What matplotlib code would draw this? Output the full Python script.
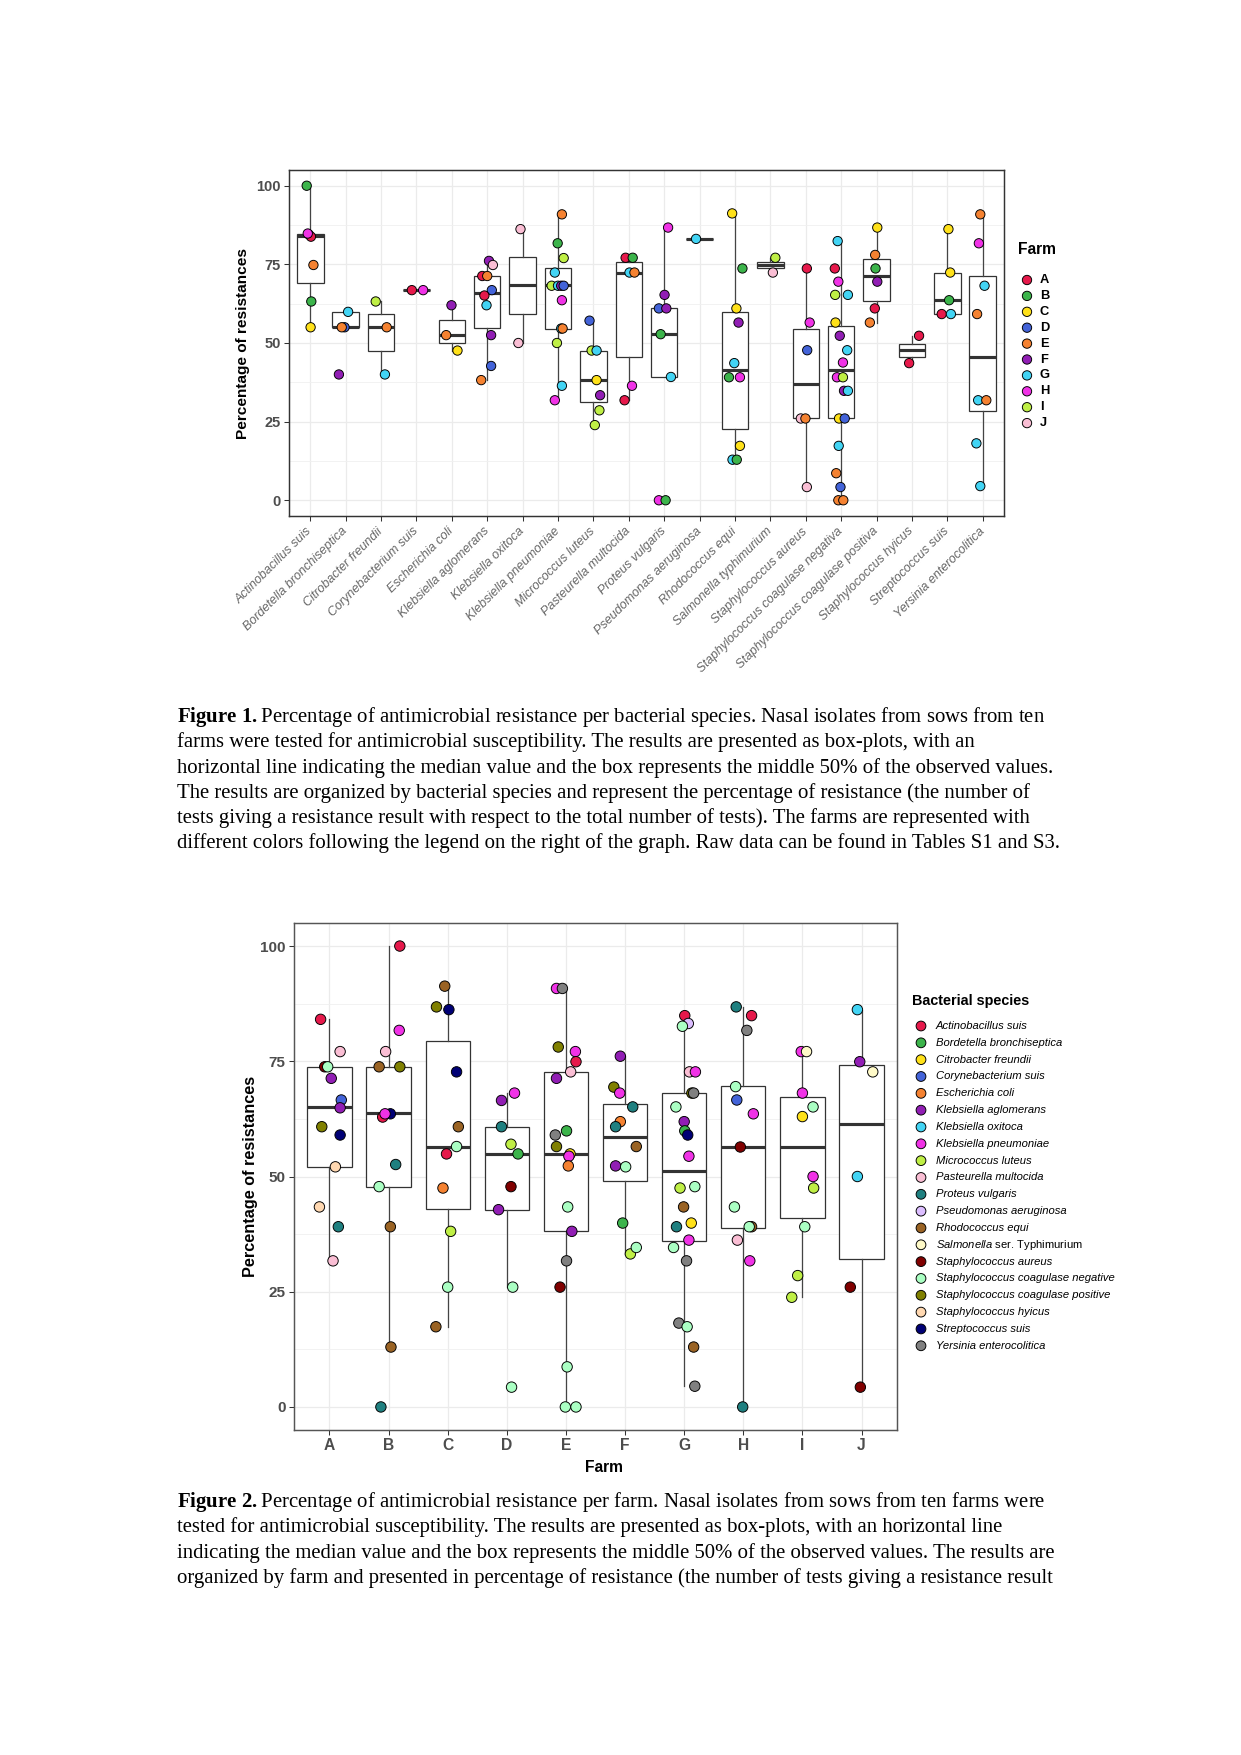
import numpy as np
import matplotlib
matplotlib.use('Agg')
import matplotlib.pyplot as plt

plt.rcParams['font.family'] = ['Liberation Sans', 'DejaVu Sans']
plt.rcParams['mathtext.fontset'] = 'custom'
plt.rcParams['mathtext.rm'] = 'Liberation Serif'
plt.rcParams['mathtext.bf'] = 'Liberation Serif:bold'
plt.rcParams['mathtext.it'] = 'Liberation Sans:italic'

W, H = 1241, 1755

farms = list('ABCDEFGHIJ')
farm_colors = ['#e6194b', '#3cb44b', '#ffe119', '#4363d8', '#f58231',
               '#911eb4', '#42d4f4', '#f032e6', '#bfef45', '#fabed4']

##########  figure 1 : resistance per bacterial species
species1 = ['Actinobacillus suis', 'Bordetella bronchiseptica', 'Citrobacter freundii',
            'Corynebacterium suis', 'Escherichia coli', 'Klebsiella aglomerans',
            'Klebsiella oxitoca', 'Klebsiella pneumoniae', 'Micrococcus luteus',
            'Pasteurella multocida', 'Proteus vulgaris', 'Pseudomonas aeruginosa',
            'Rhodococcus equi', 'Salmonella typhimurium', 'Staphylococcus aureus',
            'Staphylococcus coagulase negativa', 'Staphylococcus coagulase positiva',
            'Staphylococcus hyicus', 'Streptococcus suis', 'Yersinia enterocolitica']

# points: farm letters, values (%), horizontal jitter (category units)
f1_farm = ['BDAHEBC', 'GDEF', 'IEG', 'AH', 'FEC', 'FJAEDAGFDE', 'JJ', 'EBIGIGFDHGEIGH',
           'DIGCFII', 'ABGEHA', 'HFDFBGHB', 'G', 'CBCFGBHCGB', 'IJ', 'AHDJEJ',
           'GAHIGCFGHHIFGCDGEDEE', 'CEBFAE', 'AA', 'CCBAG', 'EHGEGEGG']
f1_val = [[100, 84.5, 83.8, 84.8, 74.8, 63.2, 55.0],
          [59.9, 55.0, 55.0, 40.0],
          [63.2, 55.0, 40.0],
          [66.8, 66.8],
          [62.0, 52.5, 47.6],
          [76.1, 74.8, 71.3, 71.3, 66.8, 65.1, 62.0, 52.5, 42.7, 38.2],
          [86.2, 50.0],
          [90.9, 81.7, 77.0, 72.4, 68.2, 68.2, 68.2, 68.2, 63.6, 54.6, 54.6, 50.0, 36.4, 31.8],
          [57.1, 47.6, 47.6, 38.2, 33.4, 28.6, 23.9],
          [77.1, 77.1, 72.4, 72.4, 36.4, 31.8],
          [86.7, 65.3, 61.0, 61.0, 52.8, 39.2, 0, 0],
          [83.1],
          [91.2, 73.7, 61.0, 56.5, 43.6, 39.1, 39.1, 17.3, 12.9, 12.9],
          [77.1, 72.4],
          [73.7, 56.5, 47.7, 26.0, 26.0, 4.2],
          [82.4, 73.7, 69.5, 65.3, 65.3, 56.5, 52.3, 47.7, 43.8, 39.1, 39.1, 34.8, 34.8,
           26.0, 26.0, 17.3, 8.6, 4.2, 0, 0],
          [86.7, 78.0, 73.7, 69.5, 61.0, 56.5],
          [52.3, 43.6],
          [86.2, 72.4, 63.6, 59.2, 59.2],
          [90.9, 81.7, 68.2, 59.2, 31.8, 31.8, 18.1, 4.5]]
f1_jit = [[-.10, -.04, .02, -.07, .09, .03, .01],
          [.07, -.03, -.11, -.19],
          [-.15, .16, .11],
          [-.13, .19],
          [-.01, -.16, .16],
          [.05, .16, -.14, 0, .13, -.08, -.02, .11, .11, -.17],
          [-.06, -.12],
          [.11, -.01, .16, -.09, -.18, 0, .09, .16, .11, .09, .13, -.03, .11, -.09],
          [-.11, -.05, .09, .09, .19, .17, .04],
          [-.09, .11, .02, .16, .09, -.12],
          [.11, .01, -.15, .06, -.10, .19, -.15, .04],
          [-.10],
          [-.08, .21, .04, .10, -.02, -.17, .14, .14, -.07, .05],
          [.14, .07],
          [.03, .11, .04, -.14, -.01, .03],
          [-.10, -.18, -.08, -.17, .19, -.16, -.04, .17, .05, -.12, .05, .08, .19,
           -.06, .10, -.07, -.14, -.02, -.08, .06],
          [.02, -.04, -.03, .02, -.05, -.19],
          [.20, -.08],
          [.03, .08, .05, -.16, .10],
          [-.07, -.11, .05, -.16, -.13, .10, -.18, -.07]]

# box statistics
f1_q1 = [69.2, 55.0, 47.6, 66.7, 50.0, 54.9, 59.1, 54.6, 31.1, 45.4,
         39.2, 83.1, 22.8, 73.7, 26.0, 26.0, 63.2, 45.7, 59.2, 28.4]
f1_med = [84.1, 55.0, 55.1, 66.7, 52.6, 66.0, 68.3, 68.3, 38.2, 72.3,
          52.8, 83.1, 41.5, 74.9, 37.0, 41.4, 71.4, 47.7, 63.6, 45.4]
f1_q3 = [84.8, 59.9, 59.1, 66.7, 57.2, 71.2, 77.2, 73.7, 47.6, 75.9,
         61.0, 83.1, 59.9, 75.9, 54.5, 55.5, 76.8, 49.8, 72.3, 71.4]
f1_lo = [55.0, 55.0, 40.0, 66.7, 47.6, 38.2, 50.0, 31.8, 23.9, 31.8,
         39.2, 83.1, 12.9, 72.4, 4.2, 0, 56.5, 43.6, 59.2, 4.5]
f1_hi = [100, 59.9, 63.2, 66.7, 62.0, 76.1, 86.2, 90.9, 57.1, 77.1,
         86.7, 83.1, 91.2, 77.1, 73.7, 82.4, 86.7, 52.3, 86.2, 90.9]

##########  figure 2 : resistance per farm
species2 = ['Actinobacillus suis', 'Bordetella bronchiseptica', 'Citrobacter freundii',
            'Corynebacterium suis', 'Escherichia coli', 'Klebsiella aglomerans',
            'Klebsiella oxitoca', 'Klebsiella pneumoniae', 'Micrococcus luteus',
            'Pasteurella multocida', 'Proteus vulgaris', 'Pseudomonas aeruginosa',
            'Rhodococcus equi', 'Salmonella ser. Typhimurium', 'Staphylococcus aureus',
            'Staphylococcus coagulase negative', 'Staphylococcus coagulase positive',
            'Staphylococcus hyicus', 'Streptococcus suis', 'Yersinia enterocolitica']
species2_colors = ['#e6194b', '#3cb44b', '#ffe119', '#4363d8', '#f58231',
                   '#911eb4', '#42d4f4', '#f032e6', '#bfef45', '#fabed4',
                   '#1f8080', '#dcbeff', '#9a6324', '#fffac8', '#800000',
                   '#aaffc3', '#808000', '#ffd8b1', '#000075', '#808080']

# points: species index, values (%), jitter
f2_sp = [[0, 9, 14, 15, 5, 3, 5, 16, 18, 17, 17, 10, 9],
         [0, 7, 9, 12, 16, 18, 0, 7, 10, 15, 12, 12, 10],
         [12, 16, 18, 18, 12, 15, 0, 4, 8, 15, 12],
         [7, 5, 10, 8, 1, 14, 5, 15, 15],
         [7, 19, 16, 7, 0, 9, 5, 1, 19, 16, 2, 7, 4, 15, 5, 19, 14, 15, 15, 15],
         [5, 16, 7, 10, 4, 10, 12, 5, 15, 1, 8, 15],
         [0, 11, 15, 9, 7, 16, 19, 15, 5, 1, 18, 7, 8, 15, 12, 2, 10, 7, 15, 19, 19, 15, 12, 19],
         [10, 0, 19, 15, 3, 7, 14, 15, 12, 15, 9, 7, 10],
         [7, 13, 7, 15, 2, 7, 8, 15, 8, 8],
         [6, 5, 13, 6, 14, 14]]
f2_val = [[84.1, 77.1, 73.8, 73.8, 71.3, 66.6, 64.9, 60.8, 59.0, 52.1, 43.4, 39.1, 31.7],
          [100, 81.7, 77.1, 73.8, 73.8, 63.6, 62.9, 63.6, 52.6, 47.8, 39.1, 13.0, 0],
          [91.3, 86.8, 86.2, 72.7, 60.8, 56.5, 54.9, 47.5, 38.1, 26.0, 17.4],
          [68.1, 66.5, 60.8, 57.0, 54.9, 47.8, 42.8, 26.0, 4.3],
          [90.8, 90.8, 78.1, 77.1, 74.9, 72.7, 71.3, 59.9, 59.0, 56.5, 54.9, 54.4, 52.3,
           43.4, 38.1, 31.7, 26.0, 8.7, 0, 0],
          [76.1, 69.4, 68.1, 65.1, 61.9, 60.8, 56.5, 52.3, 52.1, 39.9, 33.2, 34.6],
          [84.9, 83.2, 82.6, 72.7, 72.7, 68.1, 68.1, 65.1, 61.9, 59.9, 59.0, 54.4, 47.5,
           47.8, 43.4, 39.9, 39.1, 36.2, 34.6, 31.7, 18.2, 17.4, 13.0, 4.5],
          [86.8, 84.9, 81.7, 69.5, 66.6, 63.6, 56.4, 43.4, 39.1, 39.1, 36.2, 31.7, 0],
          [77.1, 77.1, 68.1, 65.1, 63.0, 50.0, 47.5, 39.1, 28.5, 23.8],
          [86.2, 74.9, 72.7, 50.0, 26.0, 4.3]]
f2_jit = [[-.15, .18, -.08, -.03, .03, .20, .18, -.13, .18, .10, -.17, .15, .06],
          [.19, .18, -.05, -.16, .19, .03, -.10, -.06, .12, -.16, .03, .04, -.13],
          [-.05, -.19, .02, .15, .18, .15, -.02, -.08, .05, .0, -.20],
          [.13, -.09, -.09, .07, .19, .07, -.14, .10, .08],
          [-.16, -.06, -.13, .16, .17, .08, -.16, .01, -.18, -.16, .07, .05, .04,
           .03, .10, .01, -.10, .02, -.01, .17],
          [-.08, -.19, -.09, .13, -.08, -.16, .19, -.16, .01, -.04, .09, .19],
          [.01, .07, -.03, .09, .19, .13, .16, -.14, .0, .01, .06, .08, -.07,
           .18, -.01, .12, -.13, .08, -.18, .04, -.09, .05, .16, .18],
          [-.12, .14, .06, -.13, -.11, .17, -.05, -.15, .14, .10, -.10, .11, -.01],
          [-.02, .07, .0, .18, .0, .18, .19, .04, -.08, -.18],
          [-.07, -.03, .19, -.07, -.19, -.02]]

f2_q1 = [52.1, 47.8, 42.9, 42.8, 38.1, 49.1, 35.9, 38.9, 41.1, 32.0]
f2_med = [65.0, 63.7, 56.4, 54.8, 54.8, 58.5, 51.1, 56.4, 56.5, 61.4]
f2_q3 = [73.8, 73.8, 79.5, 60.7, 72.6, 65.7, 68.1, 69.6, 67.2, 74.1]
f2_lo = [31.7, 13.0, 17.4, 26.0, 0, 33.2, 4.5, 0, 23.8, 4.3]
f2_hi = [84.1, 100, 91.3, 68.1, 90.8, 76.1, 84.9, 86.8, 77.1, 86.2]

cap1 = [r'$\mathbf{Figure\ 1.}$Percentage of antimicrobial resistance per bacterial species. Nasal isolates from sows from ten',
        'farms were tested for antimicrobial susceptibility. The results are presented as box-plots, with an',
        'horizontal line indicating the median value and the box represents the middle 50% of the observed values.',
        'The results are organized by bacterial species and represent the percentage of resistance (the number of',
        'tests giving a resistance result with respect to the total number of tests). The farms are represented with',
        'different colors following the legend on the right of the graph. Raw data can be found in Tables S1 and S3.']
cap2 = [r'$\mathbf{Figure\ 2.}$Percentage of antimicrobial resistance per farm. Nasal isolates from sows from ten farms were',
        'tested for antimicrobial susceptibility. The results are presented as box-plots, with an horizontal line',
        'indicating the median value and the box represents the middle 50% of the observed values. The results are',
        'organized by farm and presented in percentage of resistance (the number of tests giving a resistance result']


def box_stats(q1, med, q3, lo, hi):
  return [dict(q1=a, med=b, q3=c, whislo=d, whishi=e) for a, b, c, d, e in zip(q1, med, q3, lo, hi)]


def panel(ax, stats, xs, ys, cols, size, border):
  n = len(stats)
  ax.bxp(stats, positions=np.arange(1, n+1), widths=0.75, showfliers=False, showcaps=False,
         patch_artist=True,
         boxprops=dict(facecolor='white', edgecolor='#333333', linewidth=0.6),
         medianprops=dict(color='#333333', linewidth=1.5, solid_capstyle='butt'),
         whiskerprops=dict(color='#444444', linewidth=0.6), zorder=2)
  ax.scatter(xs, ys, s=size, c=cols, edgecolors='black', linewidths=0.45, zorder=3)
  ax.set_xlim(0.4, n+0.6)
  ax.set_ylim(-5, 105)
  ax.set_yticks([0, 25, 50, 75, 100])
  ax.set_yticks([12.5, 37.5, 62.5, 87.5], minor=True)
  ax.set_xticks(np.arange(1, n+1))
  ax.set_axisbelow(True)
  ax.grid(which='major', color='#ebebeb', linewidth=0.6)
  ax.grid(which='minor', axis='y', color='#f0f0f0', linewidth=0.4)
  for s in ax.spines.values():
    s.set_color(border)
    s.set_linewidth(0.7)
  ax.tick_params(which='major', length=2.5, width=0.5, color='#333333', pad=1.5)
  ax.tick_params(which='minor', length=0)
  for t in ax.get_yticklabels():
    t.set_fontweight('bold')
    t.set_color('#4d4d4d')


fig = plt.figure(figsize=(W/150, H/150), dpi=150)

# ---- figure 1
ax1 = fig.add_axes([289/W, 1-516/H, (1004-289)/W, (516-170)/H])
xs, ys, cs = [], [], []
for i in range(len(species1)):
  for f, v, j in zip(f1_farm[i], f1_val[i], f1_jit[i]):
    xs.append(i+1+j)
    ys.append(v)
    cs.append(farm_colors[farms.index(f)])
panel(ax1, box_stats(f1_q1, f1_med, f1_q3, f1_lo, f1_hi), xs, ys, cs, 20, '#333333')
ax1.tick_params(axis='y', labelsize=7.0)
ax1.set_xticklabels(species1, rotation=45, ha='right', va='center', rotation_mode='anchor',
                    fontstyle='italic', fontsize=6.0, color='#666666')
ax1.tick_params(axis='x', pad=4)

# ---- figure 2
ax2 = fig.add_axes([294/W, 1-1430/H, (897-294)/W, (1430-923)/H])
xs, ys, cs = [], [], []
for i in range(len(farms)):
  for s, v, j in zip(f2_sp[i], f2_val[i], f2_jit[i]):
    xs.append(i+1+j)
    ys.append(v)
    cs.append(species2_colors[s])
panel(ax2, box_stats(f2_q1, f2_med, f2_q3, f2_lo, f2_hi), xs, ys, cs, 25, '#555555')
ax2.tick_params(axis='y', labelsize=7.3)
ax2.set_xticklabels(farms, fontsize=7.5, fontweight='bold', color='#4d4d4d')

# ---- overlay in pixel coordinates for labels, legends and captions
lay = fig.add_axes([0, 0, 1, 1])
lay.set_xlim(0, W)
lay.set_ylim(H, 0)
lay.axis('off')

lay.text(243, 343, 'Percentage of resistances', rotation=90, fontsize=7.4, fontweight='bold',
         ha='center', va='center')
lay.text(251, 1176, 'Percentage of resistances', rotation=90, fontsize=7.8, fontweight='bold',
         ha='center', va='center')
lay.text(604, 1468, 'Farm', fontsize=7.5, fontweight='bold', ha='center', va='center')

# legend of figure 1
lay.text(1018, 249, 'Farm', fontsize=7.5, fontweight='bold', ha='left', va='center')
ly = 280 + 15.9*np.arange(len(farms))
lay.scatter(np.full(len(farms), 1027), ly, s=20, c=farm_colors, edgecolors='black', linewidths=0.45)
for y, f in zip(ly, farms):
  lay.text(1040, y, f, fontsize=6.2, fontweight='bold', ha='left', va='center')

# legend of figure 2
lay.text(912, 1001, 'Bacterial species', fontsize=6.9, fontweight='bold', ha='left', va='center')
ly = 1026 + 16.83*np.arange(len(species2))
lay.scatter(np.full(len(species2), 921), ly, s=22, c=species2_colors, edgecolors='black', linewidths=0.45)
for y, s in zip(ly, species2):
  if s.startswith('Salmonella'):
    lay.text(935.5, y, r'$\mathit{Salmonella}$ ser. Typhimurium', fontsize=5.4, ha='left', va='center')
  else:
    lay.text(935.5, y, s, fontsize=5.4, fontstyle='italic', ha='left', va='center')

# captions
for k, line in enumerate(cap1):
  lay.text(177, 717 + 25.3*k, line, fontsize=9.95, family='Liberation Serif', ha='left', va='center')
for k, line in enumerate(cap2):
  lay.text(177, 1502 + 25.3*k, line, fontsize=9.95, family='Liberation Serif', ha='left', va='center')

fig.savefig('out.png', dpi=150)
